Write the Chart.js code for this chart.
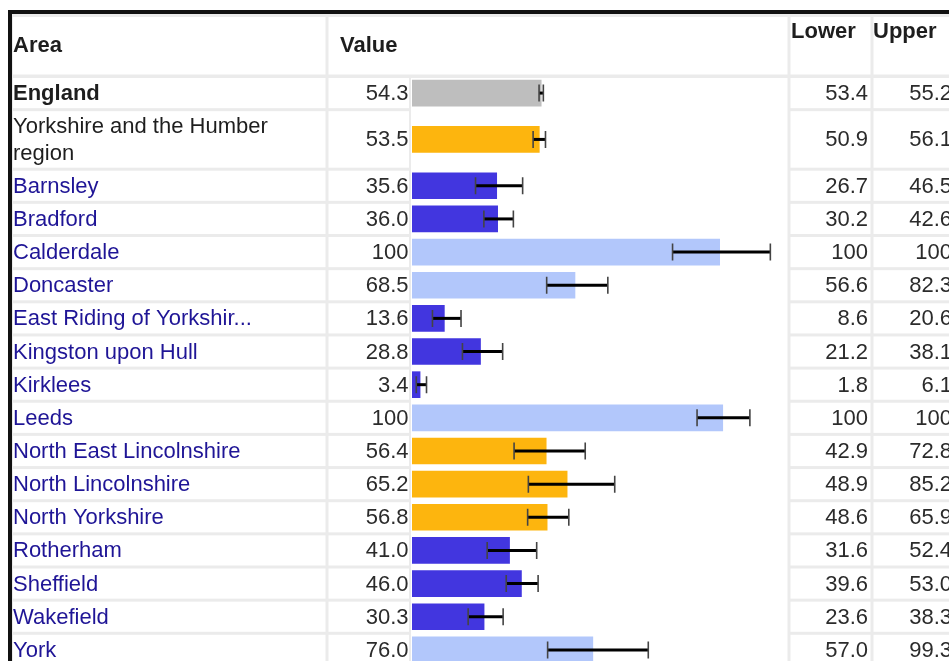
<!DOCTYPE html>
<html lang="en">
<head>
<meta charset="UTF-8">
<title>Area values with confidence intervals</title>
<script src="https://cdn.jsdelivr.net/npm/chart.js@4"></script>
<style>
    html, body { margin: 0; padding: 0; background: #fff; }
    #wrap { width: 949px; height: 661px; overflow: hidden; }
</style>
</head>
<body>
<div id="wrap"><canvas id="myChart" width="949" height="661"></canvas></div>
<script>
// table rows (an array entry = wrapped label lines)
const areas = [
    'England', ['Yorkshire and the Humber', 'region'], 'Barnsley', 'Bradford', 'Calderdale',
    'Doncaster', 'East Riding of Yorkshir...', 'Kingston upon Hull', 'Kirklees', 'Leeds',
    'North East Lincolnshire', 'North Lincolnshire', 'North Yorkshire', 'Rotherham',
    'Sheffield', 'Wakefield', 'York'
];
// numbers as printed in the table
const valueText = ['54.3', '53.5', '35.6', '36.0', '100', '68.5', '13.6', '28.8', '3.4', '100',
    '56.4', '65.2', '56.8', '41.0', '46.0', '30.3', '76.0'];
const lowerText = ['53.4', '50.9', '26.7', '30.2', '100', '56.6', '8.6', '21.2', '1.8', '100',
    '42.9', '48.9', '48.6', '31.6', '39.6', '23.6', '57.0'];
const upperText = ['55.2', '56.1', '46.5', '42.6', '100', '82.3', '20.6', '38.1', '6.1', '100',
    '72.8', '85.2', '65.9', '52.4', '53.0', '38.3', '99.3'];
// values as drawn by the bars / whiskers (Calderdale and Leeds are drawn past the capped 100)
const values = [54.3, 53.5, 35.6, 36.0, 129.3, 68.5, 13.6, 28.8, 3.4, 130.6,
    56.4, 65.2, 56.8, 41.0, 46.0, 30.3, 76.0];
const lowerCI = [53.4, 50.9, 26.7, 30.2, 109.5, 56.6, 8.6, 21.2, 1.8, 119.8,
    42.9, 48.9, 48.6, 31.6, 39.6, 23.6, 57.0];
const upperCI = [55.2, 56.1, 46.5, 42.6, 150.6, 82.3, 20.6, 38.1, 6.1, 142.0,
    72.8, 85.2, 65.9, 52.4, 53.0, 38.3, 99.3];
// comparison with England
const comparison = ['benchmark', 'similar', 'lower', 'lower', 'higher', 'higher', 'lower', 'lower',
    'lower', 'higher', 'similar', 'similar', 'similar', 'lower', 'lower', 'lower', 'higher'];

const barColors = { benchmark: '#bebebe', similar: '#fdb50e', lower: '#4236df', higher: '#b2c7fb' };

// layout
const FONT = '"Liberation Sans", Arial, Helvetica, sans-serif';
const ROW_PITCH = 33.15, LINE_STEP = 26.4, GAP = 3, FIRST_TOP = 78;
const cols = {
    area: [13, 325.5], value: [328.5, 409], bar: [411, 787.5],
    lower: [790.5, 870.5], upper: [873.5, 960]
};

const rowTops = [];
const rowHeights = [];
let nextTop = FIRST_TOP;
areas.forEach(a => {
    const lines = Array.isArray(a) ? a.length : 1;
    const pitch = ROW_PITCH + (lines - 1) * LINE_STEP;
    rowTops.push(nextTop);
    rowHeights.push(pitch - GAP);
    nextTop += pitch;
});
const rowCenters = rowTops.map((t, i) => t + rowHeights[i] / 2);

const tablePlugin = {
    id: 'tablePlugin',
    beforeDraw(chart) {
        const c = chart.ctx;
        const y = chart.scales.y;
        c.save();
        c.fillStyle = '#fff';
        c.fillRect(0, 0, chart.width, chart.height);
        // outer frame
        c.fillStyle = '#ebebeb';
        c.fillRect(12, 14, chart.width - 12, chart.height - 14);
        c.fillStyle = '#111';
        c.fillRect(8, 10, chart.width - 8, 4);
        c.fillRect(8, 10, 4, chart.height - 10);
        // header cells
        c.fillStyle = '#fff';
        c.fillRect(cols.area[0], 17, cols.area[1] - cols.area[0], 57.5);
        c.fillRect(cols.value[0], 17, cols.bar[1] - cols.value[0], 57.5);
        c.fillRect(cols.lower[0], 17, cols.lower[1] - cols.lower[0], 57.5);
        c.fillRect(cols.upper[0], 17, cols.upper[1] - cols.upper[0], 57.5);
        // bar column as one cell
        c.fillRect(cols.bar[0], FIRST_TOP, cols.bar[1] - cols.bar[0], chart.height - FIRST_TOP);
        // body cells
        rowTops.forEach((t, i) => {
            const py = y.getPixelForValue(t);
            const h = rowHeights[i];
            ['area', 'value', 'lower', 'upper'].forEach(k => {
                c.fillRect(cols[k][0], py, cols[k][1] - cols[k][0], h);
            });
        });
        c.restore();
    },
    afterDatasetsDraw(chart) {
        // confidence interval whiskers
        const c = chart.ctx;
        const x = chart.scales.x, y = chart.scales.y;
        c.save();
        rowCenters.forEach((cy, i) => {
            const py = y.getPixelForValue(cy);
            const x1 = x.getPixelForValue(lowerCI[i]);
            const x2 = x.getPixelForValue(upperCI[i]);
            c.strokeStyle = '#000';
            c.lineWidth = 3;
            c.beginPath();
            c.moveTo(x1, py);
            c.lineTo(x2, py);
            c.stroke();
            c.strokeStyle = '#444';
            c.lineWidth = 1.6;
            c.beginPath();
            c.moveTo(x1, py - 8.5);
            c.lineTo(x1, py + 8.5);
            c.moveTo(x2, py - 8.5);
            c.lineTo(x2, py + 8.5);
            c.stroke();
        });
        c.restore();
    },
    afterDraw(chart) {
        const c = chart.ctx;
        const y = chart.scales.y;
        c.save();
        c.textBaseline = 'middle';
        // header
        c.fillStyle = '#1e1e1e';
        c.font = 'bold 22px ' + FONT;
        c.textAlign = 'left';
        c.fillText('Area', 13, 46);
        c.fillText('Value', 340, 46);
        c.fillText('Lower', 791, 32);
        c.fillText('Upper', 873, 32);
        // rows
        areas.forEach((a, i) => {
            const py = y.getPixelForValue(rowCenters[i]) + 1;
            const lines = Array.isArray(a) ? a : [a];
            c.textAlign = 'left';
            if (comparison[i] === 'benchmark') {
                c.font = 'bold 22px ' + FONT;
                c.fillStyle = '#1e1e1e';
            } else if (i === 1) {
                c.font = '22px ' + FONT;
                c.fillStyle = '#1e1e1e';
            } else {
                c.font = '22px ' + FONT;
                c.fillStyle = '#1f1596';
            }
            lines.forEach((l, j) => {
                c.fillText(l, 13, py + (j - (lines.length - 1) / 2) * 27.5);
            });
            c.font = '22px ' + FONT;
            c.fillStyle = '#2b2b2b';
            c.textAlign = 'right';
            c.fillText(valueText[i], 408.5, py);
            c.fillText(lowerText[i], 868, py);
            c.fillText(upperText[i], 952, py);
        });
        c.restore();
    }
};

const ctx = document.getElementById('myChart').getContext('2d');
const myChart = new Chart(ctx, {
    type: 'bar',
    data: {
        datasets: [{
            label: 'Value',
            data: values.map((v, i) => ({ x: v, y: rowCenters[i] })),
            backgroundColor: comparison.map(k => barColors[k]),
            borderWidth: 0,
            barThickness: 26
        }]
    },
    options: {
        indexAxis: 'y',
        responsive: false,
        animation: false,
        layout: { padding: { left: 412, right: 162, top: 0, bottom: 0 } },
        scales: {
            x: { type: 'linear', min: 0, max: 157.6, display: false },
            y: { type: 'linear', min: 0, max: 661, reverse: true, offset: false, display: false }
        },
        plugins: {
            legend: { display: false },
            tooltip: { enabled: false }
        }
    },
    plugins: [tablePlugin]
});
</script>
</body>
</html>
